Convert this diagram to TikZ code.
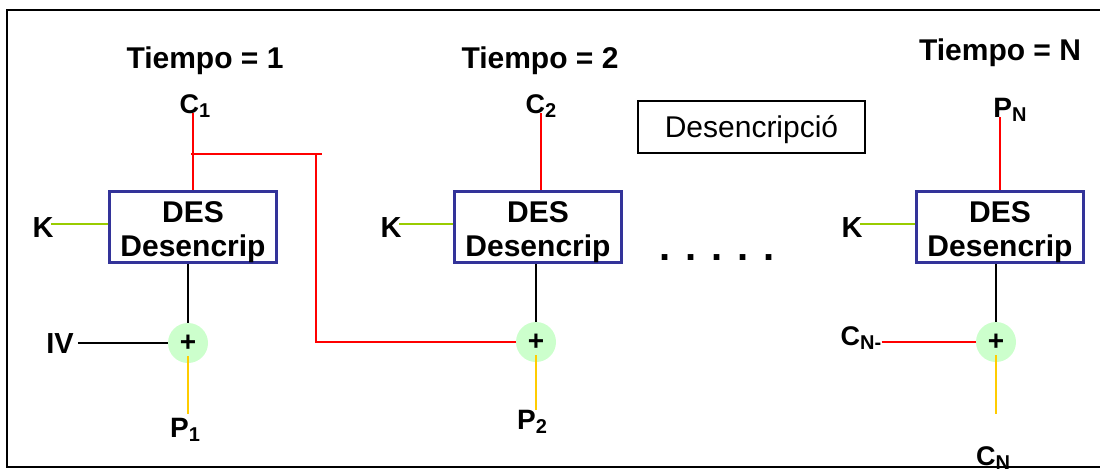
\documentclass[tikz,border=0pt]{standalone}
\usepackage{fontspec}
\setmainfont{Liberation Sans}
\usetikzlibrary{calc}
\definecolor{boxblue}{HTML}{333399}
\definecolor{xorgreen}{HTML}{CCFFCC}
\definecolor{keygreen}{HTML}{99CC00}
\definecolor{ptyellow}{HTML}{FFCC00}
\newcommand\subs[1]{\raisebox{-4pt}{\fontsize{20}{20}\selectfont #1}}
\begin{document}
\begin{tikzpicture}[x=1pt,y=-1pt,
  every node/.style={inner sep=0pt},
  ttl/.style={anchor=base, font=\fontsize{30}{30}\selectfont\bfseries},
  lblc/.style={anchor=base, font=\fontsize{27}{27}\selectfont\bfseries},
  lblp/.style={anchor=base, font=\fontsize{28}{28}\selectfont\bfseries},
  klbl/.style={anchor=base, font=\fontsize{29}{29}\selectfont\bfseries},
  desbox/.style={draw=boxblue, fill=white, line width=3pt, minimum width=167pt, minimum height=71pt},
  destext/.style={anchor=base, align=center, font=\fontsize{30}{34}\selectfont\bfseries},
  legbox/.style={draw=black, line width=1.5pt, minimum width=227pt, minimum height=52pt, font=\fontsize{30}{30}\selectfont, text height=21.5pt, text depth=0pt},
  xorc/.style={circle, fill=xorgreen, minimum size=40pt, font=\fontsize{28}{28}\selectfont\bfseries},
  dotsty/.style={anchor=base, font=\fontsize{40}{40}\selectfont\bfseries},
  redl/.style={draw=red, line width=1.5pt},
  greenl/.style={draw=keygreen, line width=1.5pt},
  blackl/.style={draw=black, line width=1.3pt},
  yell/.style={draw=ptyellow, line width=1.5pt},
  frame/.style={draw=black, line width=2pt}
]
\useasboundingbox (0,0) rectangle (1100,469);

% titles
\node[ttl] (t1) at (205,68) {Tiempo = 1};
\node[ttl] (t2) at (540,68) {Tiempo = 2};
\node[ttl] (tn) at (1000,60) {Tiempo = N};

% top labels
\node[lblc] (c1) at (195,113) {C\subs{1}};
\node[lblc] (c2) at (541,113) {C\subs{2}};
\node[lblp] (pn) at (1010,117) {P\subs{N}};

% DES boxes
\node[desbox] (b1) at (193,227) {};
\node[desbox] (b2) at (538,227) {};
\node[desbox] (bn) at (1000,227) {};
\node[destext] (d1) at (193,256) {DES\\Desencrip};
\node[destext] (d2) at (538,256) {DES\\Desencrip};
\node[destext] (dn) at (1000,256) {DES\\Desencrip};

% keys
\node[klbl] (k1) at (43,237) {K};
\node[klbl] (k2) at (391,237) {K};
\node[klbl] (kn) at (852,237) {K};

% xor circles
\node[xorc] (x1) at (188,343) {+};
\node[xorc] (x2) at (536,342) {+};
\node[xorc] (xn) at (996,342) {+};

% bottom labels
\node[klbl] (iv) at (60,353) {IV};
\node[lblp] (p1) at (185,437) {P\subs{1}};
\node[lblp] (p2) at (532,429) {P\subs{2}};
\node[lblc] (cnm) at (861,345) {C\subs{N-}};
\node[lblc] (cn) at (993,465) {C\subs{N}};

% dots and legend
\node[dotsty] (dots) at (717,260) {. . . . .};
\node[legbox] (leg) at (751.5,127) {Desencripció};

% red connectors
\draw[redl] (c1.base -| b1.north) -- (b1.north);
\coordinate (j1) at (193,154);
\coordinate (j2) at (316,154);
\draw[redl] ([xshift=-2pt]j1) -- ([xshift=6pt]j2);
\draw[redl] (j2) -- (j2 |- x2.west) -- (x2.west);
\draw[redl] (c2.base) -- (c2.base |- b2.north);
\draw[redl] (bn.north |- pn.base) -- (bn.north);
\draw[redl] (cnm.east |- xn.west) -- (xn.west);

% key connectors
\draw[greenl, shorten >=-3pt] ([yshift=3pt]b1.west) -- ([yshift=3pt]b1.west -| k1.east);
\draw[greenl, shorten >=-3pt] ([yshift=3pt]b2.west) -- ([yshift=3pt]b2.west -| k2.east);
\draw[greenl, shorten >=-3pt] ([yshift=3pt]bn.west) -- ([yshift=3pt]bn.west -| kn.east);

% black connectors
\draw[blackl] (x1.north |- b1.south) -- (x1.north);
\draw[blackl] (x2.north |- b2.south) -- (x2.north);
\draw[blackl] (xn.north |- bn.south) -- (xn.north);
\draw[blackl, shorten <=4pt] (iv.east |- x1.west) -- (x1.west);

% yellow connectors
\draw[yell, shorten <=13pt, shorten >=4pt] (x1.center) -- (x1.center |- p1.north);
\draw[yell, shorten <=13pt] (x2.center) -- (x2.center |- p2.north);
\draw[yell, shorten <=13pt, shorten >=32pt] (xn.center) -- (xn.center |- cn.north);

% frame
\draw[frame] (1120,10) -- (7,10) -- (7,467) -- (1120,467);
\end{tikzpicture}
\end{document}
